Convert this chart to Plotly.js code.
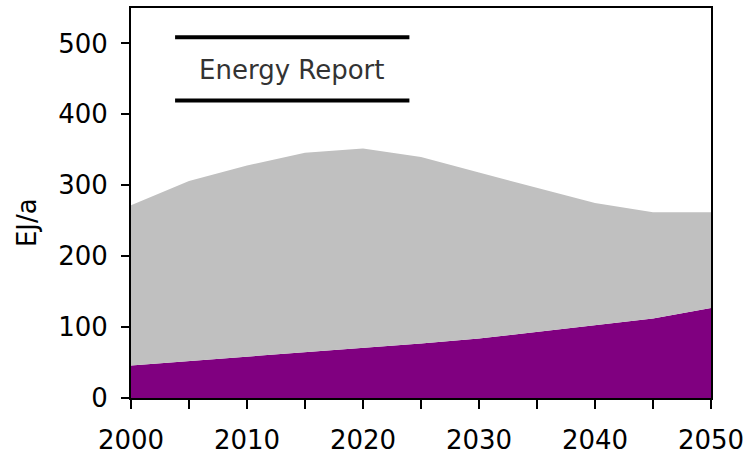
<!DOCTYPE html>
<html>
<head>
<meta charset="utf-8">
<script src="https://cdn.plot.ly/plotly-3.0.1.min.js"></script>
<style>html,body{margin:0;padding:0;background:#fff;}#chart{width:749px;height:457px;}</style>
</head>
<body>
<div id="chart"></div>
<script>
const years = [2000, 2005, 2010, 2015, 2020, 2025, 2030, 2035, 2040, 2045, 2050];
const purpleSeries = [46, 52, 58, 65, 71, 77, 84, 93, 102, 112, 127];
const graySeries = [226, 254, 270, 281, 281, 263, 234, 204, 173, 150, 135];
const xTicks = [2000, 2010, 2020, 2030, 2040, 2050];
const yTicks = [0, 100, 200, 300, 400, 500];
const yTitle = "EJ/a";
const boxLabel = "Energy Report";

const font = "DejaVu Sans, Verdana, sans-serif";

const traces = [
  {x: years, y: purpleSeries, type: "scatter", mode: "lines", stackgroup: "one",
   fillcolor: "#800080", line: {width: 0, color: "#800080"}, hoverinfo: "skip"},
  {x: years, y: graySeries, type: "scatter", mode: "lines", stackgroup: "one",
   fillcolor: "#c0c0c0", line: {width: 0, color: "#c0c0c0"}, hoverinfo: "skip"}
];

const layout = {
  width: 749, height: 457,
  margin: {l: 131, r: 38, t: 8, b: 59},
  paper_bgcolor: "#fff", plot_bgcolor: "#fff",
  showlegend: false,
  font: {family: font, size: 26, color: "#000"},
  xaxis: {
    range: [2000, 2050], tickvals: xTicks, ticktext: xTicks.map(String),
    showgrid: false, zeroline: false, showline: true, linecolor: "#000", linewidth: 2,
    mirror: true, ticks: "outside", ticklen: 9, tickwidth: 2, tickcolor: "#000",
    ticklabelstandoff: 9,
    minor: {dtick: 5, tick0: 2000, ticks: "outside", ticklen: 9, tickwidth: 2, tickcolor: "#000"},
    tickfont: {family: font, size: 26, color: "#000"}
  },
  yaxis: {
    range: [0, 550], tickvals: yTicks, ticktext: yTicks.map(String),
    showgrid: false, zeroline: false, showline: true, linecolor: "#000", linewidth: 2,
    mirror: true, ticks: "outside", ticklen: 8, tickwidth: 2, tickcolor: "#000",
    ticklabelstandoff: 8,
    tickfont: {family: font, size: 26, color: "#000"}
  },
  shapes: [
    {type: "line", xref: "paper", yref: "paper", x0: 0.076, x1: 0.480, y0: 0.925, y1: 0.925,
     line: {color: "#000", width: 4}},
    {type: "line", xref: "paper", yref: "paper", x0: 0.076, x1: 0.480, y0: 0.763, y1: 0.763,
     line: {color: "#000", width: 4}}
  ],
  annotations: [
    {text: boxLabel, xref: "paper", yref: "paper", x: 0.277, y: 0.842,
     xanchor: "center", yanchor: "middle", showarrow: false,
     font: {family: font, size: 26, color: "#333"}},
    {text: yTitle, xref: "paper", yref: "paper", x: -0.180, y: 0.45,
     xanchor: "center", yanchor: "middle", showarrow: false, textangle: -90,
     font: {family: font, size: 26, color: "#000"}}
  ]
};

Plotly.newPlot("chart", traces, layout, {staticPlot: true, displayModeBar: false});
</script>
</body>
</html>
